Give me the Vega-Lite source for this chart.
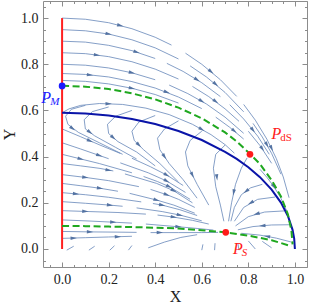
{
  "$schema": "https://vega.github.io/schema/vega-lite/v6.json",
  "width": 264,
  "height": 266,
  "autosize": {"type": "none"},
  "padding": {"left": 43, "top": 1, "right": 5, "bottom": 38},
  "config": {"view": {"stroke": null}},
  "datasets": {
    "streams": [
      {"s":"A1a","o":0,"x":0,"y":1.0},{"s":"A1a","o":1,"x":0.1,"y":0.995},{"s":"A1a","o":2,"x":0.2,"y":0.98},{"s":"A1a","o":3,"x":0.3,"y":0.954},{"s":"A1a","o":4,"x":0.4,"y":0.917},{"s":"A1a","o":5,"x":0.47,"y":0.883},
      {"s":"A1b","o":0,"x":0.53,"y":0.848},{"s":"A1b","o":1,"x":0.6,"y":0.8},{"s":"A1b","o":2,"x":0.68,"y":0.733},{"s":"A1b","o":3,"x":0.75,"y":0.661},
      {"s":"A1c","o":0,"x":0.78,"y":0.626},{"s":"A1c","o":1,"x":0.83,"y":0.558},{"s":"A1c","o":2,"x":0.88,"y":0.475},{"s":"A1c","o":3,"x":0.92,"y":0.392},{"s":"A1c","o":4,"x":0.95,"y":0.312},{"s":"A1c","o":5,"x":0.975,"y":0.222},
      {"s":"A2a","o":0,"x":0,"y":0.95},{"s":"A2a","o":1,"x":0.1,"y":0.945},{"s":"A2a","o":2,"x":0.2,"y":0.931},{"s":"A2a","o":3,"x":0.3,"y":0.906},{"s":"A2a","o":4,"x":0.4,"y":0.871},{"s":"A2a","o":5,"x":0.5,"y":0.823},
      {"s":"A2b","o":0,"x":0.55,"y":0.793},{"s":"A2b","o":1,"x":0.62,"y":0.745},{"s":"A2b","o":2,"x":0.7,"y":0.678},{"s":"A2b","o":3,"x":0.78,"y":0.594},
      {"s":"A2c","o":0,"x":0.82,"y":0.544},{"s":"A2c","o":1,"x":0.86,"y":0.485},{"s":"A2c","o":2,"x":0.9,"y":0.414},{"s":"A2c","o":3,"x":0.94,"y":0.324},
      {"s":"A3a","o":0,"x":0,"y":0.9},{"s":"A3a","o":1,"x":0.1,"y":0.896},{"s":"A3a","o":2,"x":0.2,"y":0.882},{"s":"A3a","o":3,"x":0.3,"y":0.859},{"s":"A3a","o":4,"x":0.4,"y":0.825},
      {"s":"A3b","o":0,"x":0.45,"y":0.804},{"s":"A3b","o":1,"x":0.52,"y":0.769},{"s":"A3b","o":2,"x":0.6,"y":0.72},{"s":"A3b","o":3,"x":0.68,"y":0.66},
      {"s":"A3c","o":0,"x":0.72,"y":0.625},{"s":"A3c","o":1,"x":0.78,"y":0.563},{"s":"A3c","o":2,"x":0.84,"y":0.489},{"s":"A3c","o":3,"x":0.89,"y":0.41},
      {"s":"A4a","o":0,"x":0,"y":0.85},{"s":"A4a","o":1,"x":0.1,"y":0.846},{"s":"A4a","o":2,"x":0.2,"y":0.833},{"s":"A4a","o":3,"x":0.3,"y":0.811},{"s":"A4a","o":4,"x":0.4,"y":0.779},{"s":"A4a","o":5,"x":0.5,"y":0.736},
      {"s":"A4b","o":0,"x":0.56,"y":0.704},{"s":"A4b","o":1,"x":0.63,"y":0.66},{"s":"A4b","o":2,"x":0.7,"y":0.607},{"s":"A4b","o":3,"x":0.76,"y":0.553},
      {"s":"A4c","o":0,"x":0.8,"y":0.51},{"s":"A4c","o":1,"x":0.85,"y":0.448},{"s":"A4c","o":2,"x":0.9,"y":0.371},
      {"s":"A5a","o":0,"x":0,"y":0.8},{"s":"A5a","o":1,"x":0.1,"y":0.796},{"s":"A5a","o":2,"x":0.2,"y":0.784},{"s":"A5a","o":3,"x":0.3,"y":0.763},{"s":"A5a","o":4,"x":0.4,"y":0.733},
      {"s":"A5b","o":0,"x":0.46,"y":0.71},{"s":"A5b","o":1,"x":0.54,"y":0.673},{"s":"A5b","o":2,"x":0.62,"y":0.628},{"s":"A5b","o":3,"x":0.7,"y":0.571},{"s":"A5b","o":4,"x":0.78,"y":0.501},
      {"s":"A6a","o":0,"x":0,"y":0.76},{"s":"A6a","o":1,"x":0.1,"y":0.756},{"s":"A6a","o":2,"x":0.2,"y":0.745},{"s":"A6a","o":3,"x":0.3,"y":0.725},{"s":"A6a","o":4,"x":0.4,"y":0.697},{"s":"A6a","o":5,"x":0.5,"y":0.658},{"s":"A6a","o":6,"x":0.6,"y":0.608},
      {"s":"A6b","o":0,"x":0.66,"y":0.571},{"s":"A6b","o":1,"x":0.72,"y":0.527},{"s":"A6b","o":2,"x":0.78,"y":0.476},
      {"s":"A7a","o":0,"x":0,"y":0.73},{"s":"A7a","o":1,"x":0.1,"y":0.726},{"s":"A7a","o":2,"x":0.2,"y":0.715},{"s":"A7a","o":3,"x":0.3,"y":0.696},{"s":"A7a","o":4,"x":0.4,"y":0.669},{"s":"A7a","o":5,"x":0.5,"y":0.632},
      {"s":"g1","o":0,"x":0,"y":0.59},{"s":"g1","o":1,"x":0.03,"y":0.607},{"s":"g1","o":2,"x":0.08,"y":0.622},{"s":"g1","o":3,"x":0.16,"y":0.63},{"s":"g1","o":4,"x":0.26,"y":0.626},{"s":"g1","o":5,"x":0.36,"y":0.61},{"s":"g1","o":6,"x":0.46,"y":0.582},{"s":"g1","o":7,"x":0.56,"y":0.54},{"s":"g1","o":8,"x":0.64,"y":0.495},{"s":"g1","o":9,"x":0.7,"y":0.452},{"s":"g1","o":10,"x":0.74,"y":0.415},
      {"s":"G1","o":0,"x":0.1,"y":0.622},{"s":"G1","o":1,"x":0.04,"y":0.605},{"s":"G1","o":2,"x":0.015,"y":0.575},{"s":"G1","o":3,"x":0.025,"y":0.54},{"s":"G1","o":4,"x":0.07,"y":0.505},{"s":"G1","o":5,"x":0.16,"y":0.46},{"s":"G1","o":6,"x":0.26,"y":0.41},
      {"s":"G2","o":0,"x":0.2,"y":0.615},{"s":"G2","o":1,"x":0.13,"y":0.595},{"s":"G2","o":2,"x":0.095,"y":0.56},{"s":"G2","o":3,"x":0.1,"y":0.52},{"s":"G2","o":4,"x":0.14,"y":0.49},{"s":"G2","o":5,"x":0.23,"y":0.44},{"s":"G2","o":6,"x":0.32,"y":0.39},
      {"s":"G3","o":0,"x":0.3,"y":0.6},{"s":"G3","o":1,"x":0.23,"y":0.575},{"s":"G3","o":2,"x":0.195,"y":0.54},{"s":"G3","o":3,"x":0.2,"y":0.5},{"s":"G3","o":4,"x":0.24,"y":0.465},{"s":"G3","o":5,"x":0.32,"y":0.42},{"s":"G3","o":6,"x":0.4,"y":0.36},
      {"s":"G4","o":0,"x":0.4,"y":0.578},{"s":"G4","o":1,"x":0.33,"y":0.55},{"s":"G4","o":2,"x":0.3,"y":0.51},{"s":"G4","o":3,"x":0.31,"y":0.47},{"s":"G4","o":4,"x":0.35,"y":0.43},{"s":"G4","o":5,"x":0.42,"y":0.37},{"s":"G4","o":6,"x":0.5,"y":0.29},
      {"s":"G5","o":0,"x":0.5,"y":0.555},{"s":"G5","o":1,"x":0.44,"y":0.52},{"s":"G5","o":2,"x":0.41,"y":0.48},{"s":"G5","o":3,"x":0.42,"y":0.43},{"s":"G5","o":4,"x":0.46,"y":0.37},{"s":"G5","o":5,"x":0.52,"y":0.3},{"s":"G5","o":6,"x":0.58,"y":0.22},
      {"s":"G6","o":0,"x":0.6,"y":0.51},{"s":"G6","o":1,"x":0.55,"y":0.47},{"s":"G6","o":2,"x":0.53,"y":0.42},{"s":"G6","o":3,"x":0.54,"y":0.36},{"s":"G6","o":4,"x":0.58,"y":0.28},{"s":"G6","o":5,"x":0.63,"y":0.19},
      {"s":"G7","o":0,"x":0.7,"y":0.45},{"s":"G7","o":1,"x":0.66,"y":0.41},{"s":"G7","o":2,"x":0.65,"y":0.35},{"s":"G7","o":3,"x":0.66,"y":0.27},{"s":"G7","o":4,"x":0.68,"y":0.19},{"s":"G7","o":5,"x":0.695,"y":0.12},
      {"s":"G8","o":0,"x":0.795,"y":0.395},{"s":"G8","o":1,"x":0.77,"y":0.35},{"s":"G8","o":2,"x":0.745,"y":0.28},{"s":"G8","o":3,"x":0.728,"y":0.2},{"s":"G8","o":4,"x":0.715,"y":0.12},
      {"s":"F1a","o":0,"x":0,"y":0.52},{"s":"F1a","o":1,"x":0.08,"y":0.486},{"s":"F1a","o":2,"x":0.163,"y":0.45},{"s":"F1a","o":3,"x":0.25,"y":0.414},
      {"s":"F1b","o":0,"x":0.3,"y":0.393},{"s":"F1b","o":1,"x":0.38,"y":0.356},{"s":"F1b","o":2,"x":0.45,"y":0.32},{"s":"F1b","o":3,"x":0.52,"y":0.275},
      {"s":"F2a","o":0,"x":0,"y":0.46},{"s":"F2a","o":1,"x":0.08,"y":0.433},{"s":"F2a","o":2,"x":0.16,"y":0.405},{"s":"F2a","o":3,"x":0.2,"y":0.391},
      {"s":"F2b","o":0,"x":0.25,"y":0.373},{"s":"F2b","o":1,"x":0.37,"y":0.33},{"s":"F2b","o":2,"x":0.45,"y":0.294},{"s":"F2b","o":3,"x":0.53,"y":0.245},
      {"s":"F3a","o":0,"x":0,"y":0.41},{"s":"F3a","o":1,"x":0.08,"y":0.39},{"s":"F3a","o":2,"x":0.16,"y":0.37},{"s":"F3a","o":3,"x":0.3,"y":0.33},
      {"s":"F3b","o":0,"x":0.35,"y":0.314},{"s":"F3b","o":1,"x":0.41,"y":0.292},{"s":"F3b","o":2,"x":0.46,"y":0.27},{"s":"F3b","o":3,"x":0.55,"y":0.215},
      {"s":"F4a","o":0,"x":0,"y":0.37},{"s":"F4a","o":1,"x":0.08,"y":0.36},{"s":"F4a","o":2,"x":0.163,"y":0.349},{"s":"F4a","o":3,"x":0.22,"y":0.338},
      {"s":"F4b","o":0,"x":0.27,"y":0.325},{"s":"F4b","o":1,"x":0.406,"y":0.284},{"s":"F4b","o":2,"x":0.48,"y":0.252},{"s":"F4b","o":3,"x":0.56,"y":0.2},
      {"s":"F5a","o":0,"x":0,"y":0.322},{"s":"F5a","o":1,"x":0.1,"y":0.31},{"s":"F5a","o":2,"x":0.2,"y":0.296},{"s":"F5a","o":3,"x":0.33,"y":0.27},
      {"s":"F5b","o":0,"x":0.38,"y":0.258},{"s":"F5b","o":1,"x":0.45,"y":0.235},{"s":"F5b","o":2,"x":0.5,"y":0.215},{"s":"F5b","o":3,"x":0.57,"y":0.18},
      {"s":"F6a","o":0,"x":0,"y":0.284},{"s":"F6a","o":1,"x":0.08,"y":0.274},{"s":"F6a","o":2,"x":0.163,"y":0.263},{"s":"F6a","o":3,"x":0.24,"y":0.25},
      {"s":"F6b","o":0,"x":0.29,"y":0.241},{"s":"F6b","o":1,"x":0.406,"y":0.212},{"s":"F6b","o":2,"x":0.48,"y":0.19},{"s":"F6b","o":3,"x":0.57,"y":0.155},
      {"s":"F7a","o":0,"x":0,"y":0.244},{"s":"F7a","o":1,"x":0.1,"y":0.235},{"s":"F7a","o":2,"x":0.2,"y":0.224},{"s":"F7a","o":3,"x":0.34,"y":0.204},
      {"s":"F7b","o":0,"x":0.39,"y":0.197},{"s":"F7b","o":1,"x":0.43,"y":0.19},{"s":"F7b","o":2,"x":0.506,"y":0.17},{"s":"F7b","o":3,"x":0.58,"y":0.145},
      {"s":"F8a","o":0,"x":0,"y":0.205},{"s":"F8a","o":1,"x":0.1,"y":0.198},{"s":"F8a","o":2,"x":0.206,"y":0.19},{"s":"F8a","o":3,"x":0.26,"y":0.185},
      {"s":"F8b","o":0,"x":0.32,"y":0.178},{"s":"F8b","o":1,"x":0.43,"y":0.162},{"s":"F8b","o":2,"x":0.506,"y":0.147},{"s":"F8b","o":3,"x":0.6,"y":0.122},
      {"s":"F9a","o":0,"x":0,"y":0.166},{"s":"F9a","o":1,"x":0.12,"y":0.162},{"s":"F9a","o":2,"x":0.24,"y":0.158},{"s":"F9a","o":3,"x":0.36,"y":0.151},
      {"s":"F9b","o":0,"x":0.41,"y":0.147},{"s":"F9b","o":1,"x":0.48,"y":0.138},{"s":"F9b","o":2,"x":0.56,"y":0.124},{"s":"F9b","o":3,"x":0.63,"y":0.108},
      {"s":"F10a","o":0,"x":0,"y":0.126},{"s":"F10a","o":1,"x":0.12,"y":0.121},{"s":"F10a","o":2,"x":0.24,"y":0.115},{"s":"F10a","o":3,"x":0.3,"y":0.112},
      {"s":"F10b","o":0,"x":0.36,"y":0.108},{"s":"F10b","o":1,"x":0.49,"y":0.097},{"s":"F10b","o":2,"x":0.58,"y":0.089},{"s":"F10b","o":3,"x":0.65,"y":0.082},
      {"s":"F11a","o":0,"x":0,"y":0.076},{"s":"F11a","o":1,"x":0.12,"y":0.074},{"s":"F11a","o":2,"x":0.24,"y":0.073},{"s":"F11a","o":3,"x":0.32,"y":0.072},
      {"s":"F11b","o":0,"x":0.38,"y":0.071},{"s":"F11b","o":1,"x":0.5,"y":0.071},{"s":"F11b","o":2,"x":0.6,"y":0.071},{"s":"F11b","o":3,"x":0.67,"y":0.072},
      {"s":"F12a","o":0,"x":0,"y":0.046},{"s":"F12a","o":1,"x":0.1,"y":0.049},{"s":"F12a","o":2,"x":0.2,"y":0.052},{"s":"F12a","o":3,"x":0.3,"y":0.055},
      {"s":"R1","o":0,"x":0.985,"y":0.03},{"s":"R1","o":1,"x":0.92,"y":0.047},{"s":"R1","o":2,"x":0.85,"y":0.06},{"s":"R1","o":3,"x":0.77,"y":0.068},
      {"s":"R2","o":0,"x":0.975,"y":0.105},{"s":"R2","o":1,"x":0.9,"y":0.104},{"s":"R2","o":2,"x":0.82,"y":0.097},{"s":"R2","o":3,"x":0.755,"y":0.083},
      {"s":"R3","o":0,"x":0.955,"y":0.165},{"s":"R3","o":1,"x":0.87,"y":0.16},{"s":"R3","o":2,"x":0.8,"y":0.14},{"s":"R3","o":3,"x":0.745,"y":0.1},
      {"s":"R4","o":0,"x":0.915,"y":0.225},{"s":"R4","o":1,"x":0.84,"y":0.215},{"s":"R4","o":2,"x":0.78,"y":0.18},{"s":"R4","o":3,"x":0.74,"y":0.12},
      {"s":"R5","o":0,"x":0.86,"y":0.28},{"s":"R5","o":1,"x":0.81,"y":0.265},{"s":"R5","o":2,"x":0.77,"y":0.235},{"s":"R5","o":3,"x":0.74,"y":0.18},{"s":"R5","o":4,"x":0.725,"y":0.12},
      {"s":"U1","o":0,"x":0.85,"y":0.345},{"s":"U1","o":1,"x":0.88,"y":0.31},{"s":"U1","o":2,"x":0.91,"y":0.27},{"s":"U1","o":3,"x":0.94,"y":0.22},{"s":"U1","o":4,"x":0.965,"y":0.165},
      {"s":"B1","o":0,"x":0.02,"y":-0.005},{"s":"B1","o":1,"x":0.05,"y":0.012},
      {"s":"B2","o":0,"x":0.115,"y":-0.005},{"s":"B2","o":1,"x":0.14,"y":0.012},
      {"s":"B3","o":0,"x":0.205,"y":-0.005},{"s":"B3","o":1,"x":0.225,"y":0.014},
      {"s":"B4","o":0,"x":0.285,"y":-0.005},{"s":"B4","o":1,"x":0.3,"y":0.015},
      {"s":"B5","o":0,"x":0.37,"y":0.005},{"s":"B5","o":1,"x":0.44,"y":0.03},{"s":"B5","o":2,"x":0.51,"y":0.05},{"s":"B5","o":3,"x":0.58,"y":0.062},
      {"s":"B6","o":0,"x":0.6,"y":-0.005},{"s":"B6","o":1,"x":0.605,"y":0.02},
      {"s":"B7","o":0,"x":0.655,"y":-0.005},{"s":"B7","o":1,"x":0.657,"y":0.025},
      {"s":"B8","o":0,"x":0.76,"y":-0.005},{"s":"B8","o":1,"x":0.755,"y":0.025},
      {"s":"B9","o":0,"x":0.83,"y":0.0},{"s":"B9","o":1,"x":0.8,"y":0.035},
      {"s":"B10","o":0,"x":0.9,"y":0.005},{"s":"B10","o":1,"x":0.86,"y":0.033}
    ],
    "arrows": [
      {"x":0.25,"y":0.968,"a":14},{"x":0.64,"y":0.768,"a":40},{"x":0.9,"y":0.436,"a":64},
      {"x":0.2,"y":0.931,"a":11},{"x":0.66,"y":0.714,"a":40},{"x":0.88,"y":0.451,"a":60},
      {"x":0.32,"y":0.853,"a":17},{"x":0.58,"y":0.733,"a":33},{"x":0.82,"y":0.515,"a":52},
      {"x":0.15,"y":0.84,"a":7},{"x":0.66,"y":0.639,"a":37},{"x":0.86,"y":0.434,"a":55},
      {"x":0.3,"y":0.763,"a":14},{"x":0.6,"y":0.64,"a":31},
      {"x":0.12,"y":0.754,"a":5},{"x":0.45,"y":0.679,"a":21},{"x":0.74,"y":0.511,"a":40},
      {"x":0.3,"y":0.696,"a":13},
      {"x":0.2,"y":0.629,"a":0},{"x":0.6,"y":0.518,"a":30},
      {"x":0.045,"y":0.522,"a":38},{"x":0.12,"y":0.505,"a":37},{"x":0.22,"y":0.482,"a":41},{"x":0.33,"y":0.45,"a":45},
      {"x":0.44,"y":0.4,"a":56},{"x":0.56,"y":0.32,"a":63},{"x":0.665,"y":0.31,"a":83},{"x":0.737,"y":0.245,"a":101},
      {"x":0.12,"y":0.468,"a":23},{"x":0.45,"y":0.32,"a":30},
      {"x":0.16,"y":0.405,"a":19},{"x":0.45,"y":0.294,"a":29},
      {"x":0.08,"y":0.39,"a":14},{"x":0.46,"y":0.27,"a":27},
      {"x":0.2,"y":0.341,"a":11},{"x":0.48,"y":0.252,"a":29},
      {"x":0.1,"y":0.31,"a":7},{"x":0.45,"y":0.235,"a":22},
      {"x":0.163,"y":0.263,"a":8},{"x":0.406,"y":0.212,"a":17},
      {"x":0.06,"y":0.239,"a":6},{"x":0.43,"y":0.19,"a":12},
      {"x":0.206,"y":0.19,"a":5},{"x":0.506,"y":0.147,"a":12},
      {"x":0.1,"y":0.163,"a":2},{"x":0.48,"y":0.138,"a":9},
      {"x":0.22,"y":0.116,"a":3},{"x":0.5,"y":0.096,"a":5},
      {"x":0.12,"y":0.074,"a":1},{"x":0.42,"y":0.071,"a":0},
      {"x":0.05,"y":0.047,"a":-2},{"x":0.24,"y":0.053,"a":-2},
      {"x":0.88,"y":0.055,"a":190},{"x":0.86,"y":0.101,"a":176},{"x":0.835,"y":0.152,"a":164},{"x":0.81,"y":0.2,"a":150},{"x":0.79,"y":0.25,"a":143},
      {"x":0.91,"y":0.27,"a":56}
    ],
    "red": [{"o":0,"x":0,"y":0},{"o":1,"x":0,"y":1}],
    "blue": [
      {"o":0,"x":0,"y":0.59},{"o":1,"x":0.1,"y":0.587},{"o":2,"x":0.2,"y":0.578},{"o":3,"x":0.3,"y":0.563},{"o":4,"x":0.4,"y":0.541},{"o":5,"x":0.5,"y":0.511},{"o":6,"x":0.6,"y":0.472},{"o":7,"x":0.7,"y":0.421},{"o":8,"x":0.75,"y":0.39},{"o":9,"x":0.8,"y":0.354},{"o":10,"x":0.85,"y":0.311},{"o":11,"x":0.9,"y":0.257},{"o":12,"x":0.94,"y":0.201},{"o":13,"x":0.97,"y":0.143},{"o":14,"x":0.99,"y":0.083},{"o":15,"x":0.997,"y":0.045},{"o":16,"x":1.0,"y":0.0}
    ],
    "green": [
      {"c":"up","o":0,"x":0,"y":0.707},{"c":"up","o":1,"x":0.1,"y":0.703},{"c":"up","o":2,"x":0.2,"y":0.693},{"c":"up","o":3,"x":0.3,"y":0.674},{"c":"up","o":4,"x":0.4,"y":0.648},{"c":"up","o":5,"x":0.5,"y":0.612},{"c":"up","o":6,"x":0.6,"y":0.566},{"c":"up","o":7,"x":0.7,"y":0.505},{"c":"up","o":8,"x":0.75,"y":0.466},{"c":"up","o":9,"x":0.807,"y":0.412},{"c":"up","o":10,"x":0.85,"y":0.368},{"c":"up","o":11,"x":0.9,"y":0.298},{"c":"up","o":12,"x":0.94,"y":0.228},{"c":"up","o":13,"x":0.97,"y":0.15},{"c":"up","o":14,"x":0.985,"y":0.08},{"c":"up","o":15,"x":0.99,"y":0.02},
      {"c":"lo","o":0,"x":0,"y":0.1},{"c":"lo","o":1,"x":0.1,"y":0.099},{"c":"lo","o":2,"x":0.2,"y":0.097},{"c":"lo","o":3,"x":0.3,"y":0.095},{"c":"lo","o":4,"x":0.4,"y":0.092},{"c":"lo","o":5,"x":0.5,"y":0.089},{"c":"lo","o":6,"x":0.6,"y":0.081},{"c":"lo","o":7,"x":0.7,"y":0.072},{"c":"lo","o":8,"x":0.8,"y":0.058},{"c":"lo","o":9,"x":0.9,"y":0.038},{"c":"lo","o":10,"x":0.985,"y":0.012}
    ],
    "pts": [
      {"n":"PM","x":0,"y":0.706},{"n":"PdS","x":0.807,"y":0.41},{"n":"PS","x":0.703,"y":0.072}
    ],
    "labels": [
      {"n":"PM","p":"P","sub":"M","x":-0.068,"y":0.655},
      {"n":"PdS","p":"P","sub":"dS","x":0.92,"y":0.5},
      {"n":"PS","p":"P","sub":"S","x":0.755,"y":0.002}
    ]
  },
  "resolve": {"axis": {"x": "independent", "y": "independent"}},
  "layer": [
    {
      "data": {"name": "streams"},
      "mark": {"type": "line", "stroke": "#5E81B5", "strokeWidth": 0.9, "opacity": 0.85},
      "encoding": {
        "x": {"field": "x", "type": "quantitative", "scale": {"domain": [-0.082, 1.052], "nice": false, "zero": false},
          "axis": {"orient": "bottom", "values": [0, 0.2, 0.4, 0.6, 0.8, 1], "format": ".1f", "tickSize": -5, "tickColor": "#8c8c8c", "domainColor": "#8c8c8c", "labelPadding": 10, "labelFont": "Liberation Serif", "labelFontSize": 14, "labelColor": "#222222", "labelFlush": false, "title": "X", "titleFont": "Liberation Serif", "titleFontSize": 16, "titleFontWeight": "normal", "titleColor": "#222222", "titlePadding": 2, "grid": false}},
        "y": {"field": "y", "type": "quantitative", "scale": {"domain": [-0.078, 1.074], "nice": false, "zero": false},
          "axis": {"orient": "left", "values": [0, 0.2, 0.4, 0.6, 0.8, 1], "format": ".1f", "tickSize": -5, "tickColor": "#8c8c8c", "domainColor": "#8c8c8c", "labelPadding": 10, "labelFont": "Liberation Serif", "labelFontSize": 14, "labelColor": "#222222", "labelFlush": false, "title": "Y", "titleFont": "Liberation Serif", "titleFontSize": 16, "titleFontWeight": "normal", "titleColor": "#222222", "titlePadding": 3, "grid": false}},
        "detail": {"field": "s"},
        "order": {"field": "o", "type": "quantitative"}
      }
    },
    {
      "data": {"name": "arrows"},
      "mark": {"type": "point", "shape": "M1,0L-1,-0.55L-1,0.55Z", "filled": true, "color": "#4f6f9f", "size": 40, "opacity": 0.95},
      "encoding": {
        "x": {"field": "x", "type": "quantitative", "scale": {"domain": [-0.082, 1.052], "nice": false, "zero": false},
          "axis": {"orient": "bottom", "values": [-0.05, 0.05, 0.1, 0.15, 0.25, 0.3, 0.35, 0.45, 0.5, 0.55, 0.65, 0.7, 0.75, 0.85, 0.9, 0.95, 1.05], "tickSize": -2.5, "tickColor": "#8c8c8c", "labels": false, "domain": false, "title": null, "grid": false}},
        "y": {"field": "y", "type": "quantitative", "scale": {"domain": [-0.078, 1.074], "nice": false, "zero": false},
          "axis": {"orient": "left", "values": [-0.05, 0.05, 0.1, 0.15, 0.25, 0.3, 0.35, 0.45, 0.5, 0.55, 0.65, 0.7, 0.75, 0.85, 0.9, 0.95, 1.05], "tickSize": -2.5, "tickColor": "#8c8c8c", "labels": false, "domain": false, "title": null, "grid": false}},
        "angle": {"field": "a", "type": "quantitative", "scale": null}
      }
    },
    {
      "data": {"name": "red"},
      "mark": {"type": "line", "stroke": "#ff2020", "strokeWidth": 2},
      "encoding": {
        "x": {"field": "x", "type": "quantitative", "scale": {"domain": [-0.082, 1.052], "nice": false, "zero": false},
          "axis": {"orient": "top", "values": [0, 0.2, 0.4, 0.6, 0.8, 1], "tickSize": -5, "tickColor": "#8c8c8c", "domainColor": "#8c8c8c", "labels": false, "title": null, "grid": false}},
        "y": {"field": "y", "type": "quantitative", "scale": {"domain": [-0.078, 1.074], "nice": false, "zero": false},
          "axis": {"orient": "right", "values": [0, 0.2, 0.4, 0.6, 0.8, 1], "tickSize": -5, "tickColor": "#8c8c8c", "domainColor": "#8c8c8c", "labels": false, "title": null, "grid": false}},
        "order": {"field": "o", "type": "quantitative"}
      }
    },
    {
      "data": {"name": "blue"},
      "mark": {"type": "line", "stroke": "#0a14a8", "strokeWidth": 2},
      "encoding": {
        "x": {"field": "x", "type": "quantitative", "scale": {"domain": [-0.082, 1.052], "nice": false, "zero": false},
          "axis": {"orient": "top", "values": [-0.05, 0.05, 0.1, 0.15, 0.25, 0.3, 0.35, 0.45, 0.5, 0.55, 0.65, 0.7, 0.75, 0.85, 0.9, 0.95, 1.05], "tickSize": -2.5, "tickColor": "#8c8c8c", "labels": false, "domain": false, "title": null, "grid": false}},
        "y": {"field": "y", "type": "quantitative", "scale": {"domain": [-0.078, 1.074], "nice": false, "zero": false},
          "axis": {"orient": "right", "values": [-0.05, 0.05, 0.1, 0.15, 0.25, 0.3, 0.35, 0.45, 0.5, 0.55, 0.65, 0.7, 0.75, 0.85, 0.9, 0.95, 1.05], "tickSize": -2.5, "tickColor": "#8c8c8c", "labels": false, "domain": false, "title": null, "grid": false}},
        "order": {"field": "o", "type": "quantitative"}
      }
    },
    {
      "data": {"name": "green"},
      "mark": {"type": "line", "stroke": "#1fa81f", "strokeWidth": 2, "strokeDash": [7, 3.5]},
      "encoding": {
        "x": {"field": "x", "type": "quantitative", "scale": {"domain": [-0.082, 1.052], "nice": false, "zero": false}, "axis": null},
        "y": {"field": "y", "type": "quantitative", "scale": {"domain": [-0.078, 1.074], "nice": false, "zero": false}, "axis": null},
        "detail": {"field": "c"},
        "order": {"field": "o", "type": "quantitative"}
      }
    },
    {
      "data": {"name": "pts"},
      "mark": {"type": "point", "shape": "circle", "filled": true, "opacity": 1, "size": 45},
      "encoding": {
        "x": {"field": "x", "type": "quantitative", "scale": {"domain": [-0.082, 1.052], "nice": false, "zero": false}, "axis": null},
        "y": {"field": "y", "type": "quantitative", "scale": {"domain": [-0.078, 1.074], "nice": false, "zero": false}, "axis": null},
        "color": {"field": "n", "type": "nominal", "scale": {"domain": ["PM", "PdS", "PS"], "range": ["#1a1aff", "#ff1a1a", "#ff1a1a"]}, "legend": null}
      }
    },
    {
      "data": {"name": "labels"},
      "mark": {"type": "text", "font": "Liberation Serif", "fontStyle": "italic", "fontSize": 16, "align": "center", "baseline": "middle"},
      "encoding": {
        "x": {"field": "x", "type": "quantitative", "scale": {"domain": [-0.082, 1.052], "nice": false, "zero": false}, "axis": null},
        "y": {"field": "y", "type": "quantitative", "scale": {"domain": [-0.078, 1.074], "nice": false, "zero": false}, "axis": null},
        "text": {"field": "p"},
        "color": {"field": "n", "type": "nominal", "scale": {"domain": ["PM", "PdS", "PS"], "range": ["#1a1aff", "#ff1a1a", "#ff1a1a"]}, "legend": null}
      }
    },
    {
      "data": {"name": "labels"},
      "transform": [{"filter": "datum.n != 'PdS'"}],
      "mark": {"type": "text", "font": "Liberation Serif", "fontStyle": "italic", "fontSize": 11, "align": "left", "baseline": "middle", "dx": 4, "dy": 4},
      "encoding": {
        "x": {"field": "x", "type": "quantitative", "scale": {"domain": [-0.082, 1.052], "nice": false, "zero": false}, "axis": null},
        "y": {"field": "y", "type": "quantitative", "scale": {"domain": [-0.078, 1.074], "nice": false, "zero": false}, "axis": null},
        "text": {"field": "sub"},
        "color": {"field": "n", "type": "nominal", "scale": {"domain": ["PM", "PdS", "PS"], "range": ["#1a1aff", "#ff1a1a", "#ff1a1a"]}, "legend": null}
      }
    },
    {
      "data": {"name": "labels"},
      "transform": [{"filter": "datum.n == 'PdS'"}],
      "mark": {"type": "text", "font": "Liberation Serif", "fontSize": 11, "align": "left", "baseline": "middle", "dx": 4, "dy": 4},
      "encoding": {
        "x": {"field": "x", "type": "quantitative", "scale": {"domain": [-0.082, 1.052], "nice": false, "zero": false}, "axis": null},
        "y": {"field": "y", "type": "quantitative", "scale": {"domain": [-0.078, 1.074], "nice": false, "zero": false}, "axis": null},
        "text": {"field": "sub"},
        "color": {"field": "n", "type": "nominal", "scale": {"domain": ["PM", "PdS", "PS"], "range": ["#1a1aff", "#ff1a1a", "#ff1a1a"]}, "legend": null}
      }
    }
  ]
}
